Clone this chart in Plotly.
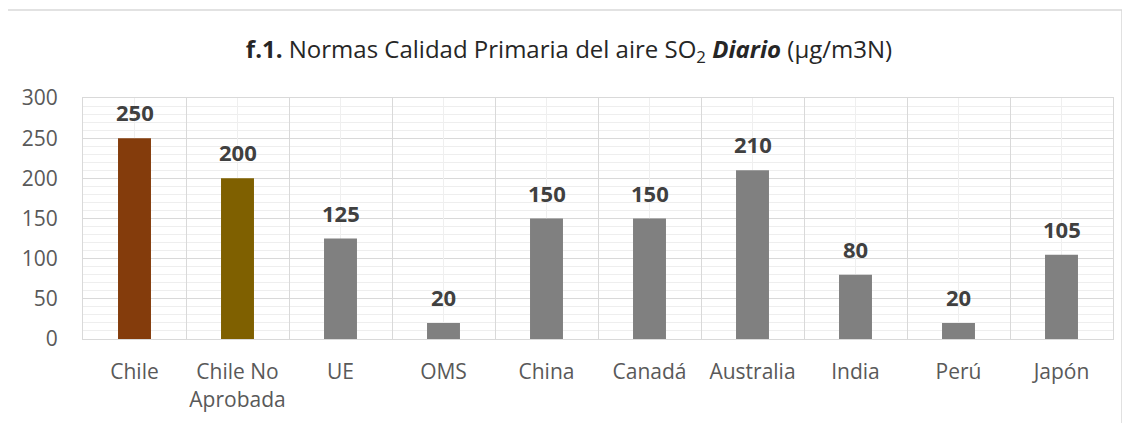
import plotly.graph_objects as go

categories = ["Chile", "Chile No<br>Aprobada", "UE", "OMS", "China", "Canadá",
              "Australia", "India", "Perú", "Japón"]
values = [250, 200, 125, 20, 150, 150, 210, 80, 20, 105]
bar_colors = ["#843C0C", "#7F6000", "#808080", "#808080", "#808080", "#808080",
              "#808080", "#808080", "#808080", "#808080"]

FONT = "Open Sans"

fig = go.Figure()
fig.add_trace(go.Bar(
    x=categories, y=values, marker=dict(color=bar_colors, line=dict(width=0)),
    width=0.32, hoverinfo="x+y", showlegend=False,
))
# helper trace so the overlaid axis (minor vertical grid at category centres) is drawn
fig.add_trace(go.Scatter(x=[-0.5, len(categories) - 0.5], y=[0, 0], xaxis="x2",
                         mode="none", hoverinfo="skip", showlegend=False))

for c, v in zip(categories, values):
    fig.add_annotation(x=c, y=v, text=f"<b>{v}</b>", showarrow=False,
                       yanchor="bottom", yshift=9,
                       font=dict(family=FONT, size=22, color="#404040"))

fig.update_layout(
    width=1122, height=415,
    margin=dict(l=75, r=17, t=90, b=84),
    paper_bgcolor="white", plot_bgcolor="white",
    title=dict(
        text="<b>f.1.</b> Normas Calidad Primaria del aire SO<sub>2</sub> <b><i>Diario</i></b> (µg/m3N)",
        x=0.5, xanchor="center", y=0.899, yanchor="middle",
        font=dict(family=FONT, size=24, color="#262626"),
    ),
    font=dict(family=FONT),
    xaxis=dict(
        type="category", tickson="boundaries", showgrid=True, gridcolor="#d9d9d9",
        gridwidth=1, ticks="", ticklabelstandoff=14, tickangle=0, automargin=False,
        tickfont=dict(family=FONT, size=21, color="#595959"),
        showline=True, linecolor="#d9d9d9", mirror=True, zeroline=False,
        range=[-0.5, 9.5],
    ),
    xaxis2=dict(
        overlaying="x", range=[-0.5, 9.5], tick0=0, dtick=1, showgrid=True,
        gridcolor="#efefef", showticklabels=False, ticks="", zeroline=False,
        layer="below traces",
    ),
    yaxis=dict(
        range=[0, 300], dtick=50, tick0=0, showgrid=True, gridcolor="#d9d9d9",
        ticks="", ticklabelstandoff=20, automargin=False,
        tickfont=dict(family=FONT, size=21, color="#595959"),
        minor=dict(dtick=10, showgrid=True, gridcolor="#eeeeee", gridwidth=1),
        showline=True, linecolor="#d9d9d9", mirror=True, zeroline=False,
    ),
)

# outer chart border
fig.add_shape(type="rect", xref="paper", yref="paper",
              x0=-0.0738, x1=1.0087, y0=-0.40, y1=1.365,
              line=dict(color="#d9d9d9", width=1.5), fillcolor="rgba(0,0,0,0)",
              layer="below")

fig.write_html("out.html")
